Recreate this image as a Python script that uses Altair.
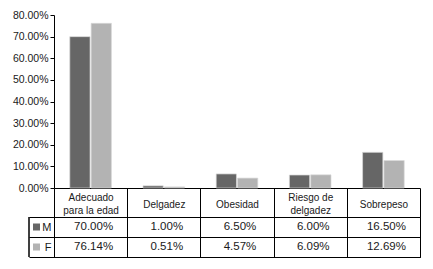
import altair as alt
import pandas as pd

categories = ["Adecuado\npara la edad", "Delgadez", "Obesidad", "Riesgo de\ndelgadez", "Sobrepeso"]
sexes = ["M", "F"]
values_m = [70.00, 1.00, 6.50, 6.00, 16.50]
values_f = [76.14, 0.51, 4.57, 6.09, 12.69]
colors = ["#666666", "#b3b3b3"]

rows = []
for c, m, f in zip(categories, values_m, values_f):
    rows.append({"cat": c, "sex": "M", "value": m})
    rows.append({"cat": c, "sex": "F", "value": f})
df = pd.DataFrame(rows)

FONT = "Liberation Sans"
TXT = "#1a1a1a"

color = alt.Color("sex:N", scale=alt.Scale(domain=sexes, range=colors), legend=None)
xscale = alt.Scale(domain=categories, paddingInner=0, paddingOuter=0)

bars = alt.Chart(df).mark_bar(stroke="#d9d9d9", strokeWidth=0.7).encode(
    x=alt.X("cat:N", scale=xscale, sort=categories, title=None,
            axis=alt.Axis(labelExpr="split(datum.label, '\\n')", labelAngle=0,
                          labelBaseline="middle",
                          labelPadding={"condition": {"test": "indexof(datum.label, '\\n') >= 0", "value": -19.5}, "value": -13},
                          labelFontSize=10, labelLineHeight=13, labelFont=FONT, labelColor=TXT,
                          tickSize=29, tickBand="extent", tickColor="black",
                          domainColor="black", grid=False)),
    xOffset=alt.XOffset("sex:N", sort=sexes, scale=alt.Scale(domain=sexes, paddingInner=0.05, paddingOuter=0.74)),
    y=alt.Y("value:Q", scale=alt.Scale(domain=[0, 80]), title=None,
            axis=alt.Axis(values=[0, 10, 20, 30, 40, 50, 60, 70, 80],
                          labelExpr="format(datum.value/100, '.2%')",
                          labelFontSize=10.5, labelFont=FONT, labelColor=TXT,
                          tickSize=4, tickColor="black", domainColor="black",
                          labelPadding=2, grid=False)),
    color=color,
).properties(width=366, height=173, view=alt.ViewBackground(stroke=None))

table_base = alt.Chart(df).transform_calculate(label="format(datum.value/100, '.2%')")

table_text = table_base.mark_text(fontSize=11.5, font=FONT, color=TXT, dx=3).encode(
    x=alt.X("cat:N", scale=xscale, sort=categories, title=None,
            axis=alt.Axis(labels=False, ticks=False, domain=False, grid=True,
                          gridColor="black", gridOpacity=1, tickBand="extent")),
    y=alt.Y("sex:N", sort=sexes, scale=alt.Scale(domain=sexes, paddingInner=0, paddingOuter=0), title=None,
            axis=alt.Axis(labelFontSize=11, labelFont=FONT, labelColor=TXT,
                          tickSize=25, tickBand="extent", tickColor="black",
                          labelPadding=-22, domainColor="black",
                          grid=True, gridColor="black", gridOpacity=1)),
    text="label:N",
)

squares = alt.Chart(pd.DataFrame({"sex": sexes})).mark_point(shape="square", filled=True, size=49, opacity=1).encode(
    x=alt.value(-17.5),
    y=alt.Y("sex:N", sort=sexes),
    color=color,
)

left_line = alt.Chart(pd.DataFrame({"sex": sexes})).mark_rule(color="black", strokeWidth=1).encode(
    x=alt.value(-25),
)

table = alt.layer(table_text, squares, left_line).properties(
    width=366, height=40, view=alt.ViewBackground(stroke="black", strokeWidth=1))

chart = alt.vconcat(bars, table, spacing=29, bounds="flush").properties(
    padding={"left": 12, "top": 10, "right": 5, "bottom": 5}
).resolve_scale(color="shared")

chart.save("out.html", embed_options={"renderer": "svg", "actions": False})
